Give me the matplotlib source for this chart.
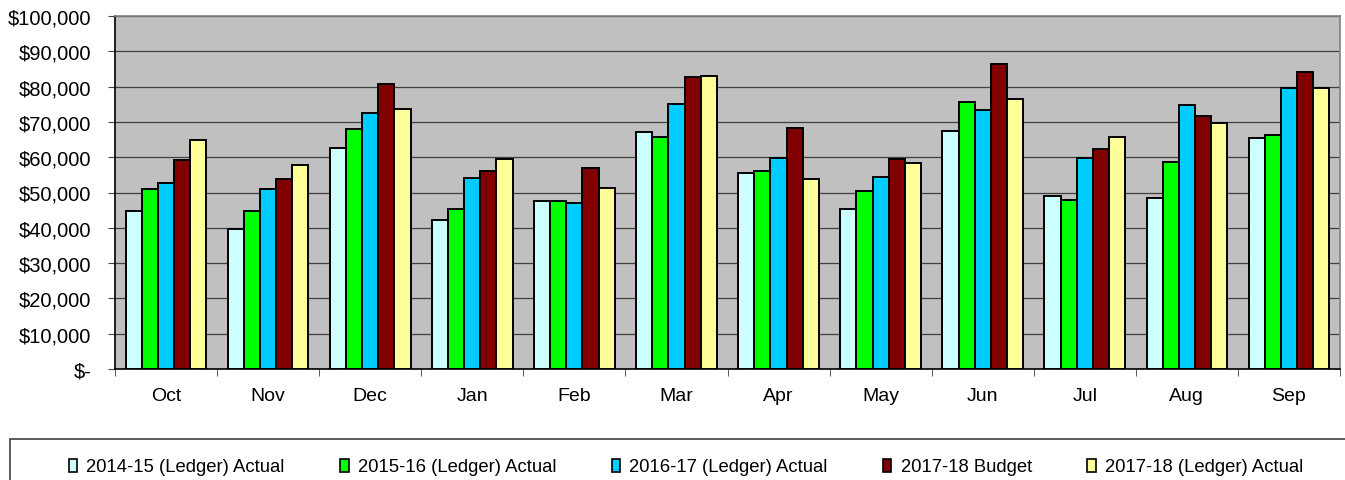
import numpy as np
import matplotlib.pyplot as plt
from matplotlib.patches import Rectangle, Patch
from matplotlib.ticker import FuncFormatter, MultipleLocator

plt.rcParams['font.family'] = ['Liberation Sans', 'DejaVu Sans']

months = ['Oct', 'Nov', 'Dec', 'Jan', 'Feb', 'Mar', 'Apr', 'May', 'Jun', 'Jul', 'Aug', 'Sep']

actual_1415 = [44700, 39700, 62700, 42300, 47700, 67100, 55600, 45200, 67400, 48900, 48400, 65500]
actual_1516 = [50900, 44700, 68000, 45400, 47700, 65800, 56000, 50400, 75700, 47900, 58500, 66300]
actual_1617 = [52800, 50900, 72600, 54200, 47000, 75100, 59800, 54400, 73300, 59900, 74900, 79600]
budget_1718 = [59100, 53800, 80800, 56200, 57000, 82800, 68400, 59600, 86400, 62200, 71700, 84000]
actual_1718 = [64800, 57900, 73600, 59400, 51400, 83000, 53900, 58300, 76600, 65800, 69800, 79600]

series = [actual_1415, actual_1516, actual_1617, budget_1718, actual_1718]
labels = ['2014-15 (Ledger) Actual', '2015-16 (Ledger) Actual', '2016-17 (Ledger) Actual',
          '2017-18 Budget', '2017-18 (Ledger) Actual']
colors = ['#CCFFFF', '#00FF00', '#00CCFF', '#800000', '#FFFF99']

fig = plt.figure(figsize=(13.45, 4.81), dpi=100)
ax = fig.add_axes([115 / 1345, 1 - 370 / 481, 1225 / 1345, 353 / 481])
ax.set_facecolor('#C0C0C0')

x = np.arange(len(months))
w = 0.158
for i, (vals, c) in enumerate(zip(series, colors)):
    ax.bar(x + (i - 2) * w, vals, w, color=c, edgecolor='black', linewidth=1.4, zorder=3)

ax.set_xlim(-0.5, len(months) - 0.5)
ax.set_ylim(0, 100000)
ax.yaxis.set_major_locator(MultipleLocator(10000))
ax.yaxis.set_major_formatter(FuncFormatter(lambda v, p: '$-' if v == 0 else '${:,.0f}'.format(v)))
ax.grid(axis='y', color='#404040', linewidth=0.9, zorder=1)
ax.set_axisbelow(True)

ax.set_xticks(x)
ax.set_xticklabels(months, fontsize=14)
ax.set_xticks(np.arange(-0.5, len(months)), minor=True)
ax.tick_params(axis='x', which='major', length=0, pad=13)
ax.tick_params(axis='x', which='minor', length=5, direction='out', color='#404040')
ax.tick_params(axis='y', length=5, direction='out', color='#404040', labelsize=14.5, pad=12)

for s in ['left', 'bottom']:
    ax.spines[s].set_color('black')
    ax.spines[s].set_linewidth(1.2)
for s in ['top', 'right']:
    ax.spines[s].set_color('#808080')
    ax.spines[s].set_linewidth(1.2)

# legend frame
fig.patches.append(Rectangle((10 / 1345, -0.1), 1.1, (481 - 440) / 481 + 0.1,
                             transform=fig.transFigure, fill=False,
                             edgecolor='#404040', linewidth=1.2))
handles = [Patch(facecolor=c, edgecolor='black', linewidth=1.2) for c in colors]
fig.legend(handles, labels, loc='center', bbox_to_anchor=(0.510, 1 - 468 / 481), ncol=5,
           frameon=False, fontsize=13.3, handlelength=0.45, handleheight=0.7,
           handletextpad=0.5, columnspacing=3.0)

fig.savefig('out.png', dpi=100)
